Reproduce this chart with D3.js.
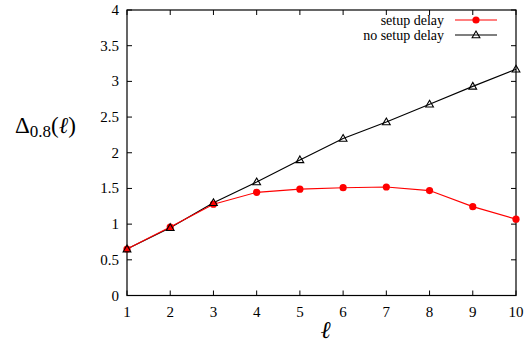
<!DOCTYPE html>
<html><head><meta charset="utf-8">
<script src="https://cdn.jsdelivr.net/npm/d3@7"></script>
<style>body{margin:0;background:#fff}svg{display:block}
text{font-family:"Liberation Serif","DejaVu Serif",serif;}</style>
</head><body>
<svg id="c" width="529" height="345"></svg>
<script>
const ells = [1,2,3,4,5,6,7,8,9,10];
const setupDelay = [0.65,0.96,1.28,1.445,1.49,1.51,1.52,1.47,1.245,1.07];
const noSetupDelay = [0.65,0.95,1.30,1.59,1.90,2.20,2.43,2.68,2.93,3.17];
const yTicks = [0,0.5,1,1.5,2,2.5,3,3.5,4];
const xTicks = [1,2,3,4,5,6,7,8,9,10];
const seriesNames = ["setup delay","no setup delay"];

const svg = d3.select("#c");
const L=127, R=516, T=10, B=295.5;
const x = d3.scaleLinear().domain([1,10]).range([L,R]);
const y = d3.scaleLinear().domain([0,4]).range([B,T]);

const tl = 5;
const g = svg.append("g").attr("stroke","#000").attr("stroke-width",1);
yTicks.forEach(v=>{
  g.append("line").attr("x1",L).attr("x2",L+tl).attr("y1",y(v)).attr("y2",y(v));
  g.append("line").attr("x1",R).attr("x2",R-tl).attr("y1",y(v)).attr("y2",y(v));
});
xTicks.forEach(v=>{
  g.append("line").attr("x1",x(v)).attr("x2",x(v)).attr("y1",B).attr("y2",B-tl);
  g.append("line").attr("x1",x(v)).attr("x2",x(v)).attr("y1",T).attr("y2",T+tl);
});
svg.append("rect").attr("x",L).attr("y",T).attr("width",R-L).attr("height",B-T)
  .attr("fill","none").attr("stroke","#000").attr("stroke-width",1.2);

svg.selectAll(".yl").data(yTicks).enter().append("text")
  .attr("x",L-8).attr("y",d=>y(d)+5).attr("text-anchor","end")
  .attr("font-size",15).text(d=>d);
svg.selectAll(".xl").data(xTicks).enter().append("text")
  .attr("x",d=>x(d)).attr("y",B+21).attr("text-anchor","middle")
  .attr("font-size",15).text(d=>d);

const yl = svg.append("text").attr("x",15).attr("y",133).attr("font-size",23);
yl.append("tspan").text("Δ");
yl.append("tspan").attr("font-size",17).attr("dy",4).text("0.8");
yl.append("tspan").attr("dy",-4).text("(");
yl.append("tspan").attr("font-style","italic").text("ℓ");
yl.append("tspan").text(")");
svg.append("text").attr("x",x(5.6)).attr("y",338).attr("text-anchor","middle")
  .attr("font-size",24).attr("font-style","italic").text("ℓ");

const line = d3.line().x((d,i)=>x(ells[i])).y(d=>y(d));
svg.append("path").attr("d",line(noSetupDelay)).attr("fill","none").attr("stroke","#000").attr("stroke-width",1.1);
const tri = d3.symbol().type(d3.symbolTriangle).size(26);
svg.append("path").attr("d",line(setupDelay)).attr("fill","none").attr("stroke","#ff0000").attr("stroke-width",1.1);
svg.selectAll(".rp").data(setupDelay).enter().append("circle")
  .attr("cx",(d,i)=>x(ells[i])).attr("cy",d=>y(d)).attr("r",3.6).attr("fill","#ff0000");
svg.selectAll(".bp").data(noSetupDelay).enter().append("path")
  .attr("d",tri).attr("transform",(d,i)=>`translate(${x(ells[i])},${y(d)+0.5})`)
  .attr("fill","none").attr("stroke","#000").attr("stroke-width",1.1);

const lg = svg.append("g");
[0,1].forEach(i=>{
  const yy = 20 + i*15;
  lg.append("text").attr("x",444).attr("y",yy+5).attr("text-anchor","end")
    .attr("font-size",14).text(seriesNames[i]);
  lg.append("line").attr("x1",455).attr("x2",497).attr("y1",yy).attr("y2",yy)
    .attr("stroke",i===0?"#ff0000":"#000").attr("stroke-width",1.1);
  if(i===0) lg.append("circle").attr("cx",476).attr("cy",yy).attr("r",3.6).attr("fill","#ff0000");
  else lg.append("path").attr("d",tri).attr("transform",`translate(476,${yy+0.5})`)
    .attr("fill","none").attr("stroke","#000").attr("stroke-width",1.1);
});
</script>
</body></html>
